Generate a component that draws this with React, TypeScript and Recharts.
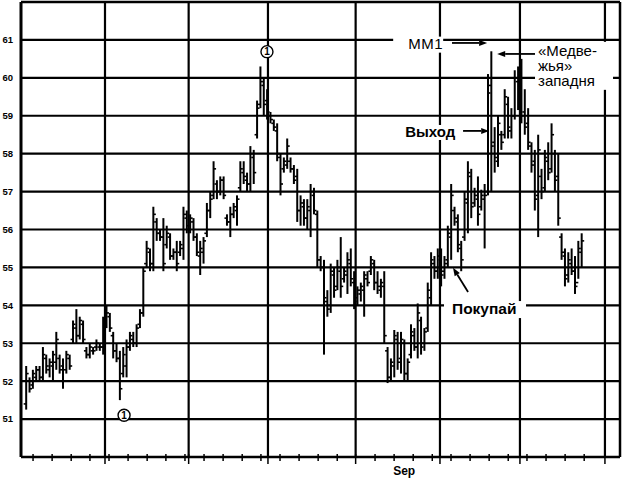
import React from "react";
import {
  Bar,
  CartesianGrid,
  ComposedChart,
  ReferenceDot,
  ReferenceLine,
  XAxis,
  YAxis,
} from "recharts";

// daily bars left to right
const HIGH = [
  52.4, 52.1, 52.3, 52.4, 52.4, 52.9, 52.7, 52.6, 52.8, 53.3, 52.7, 52.6, 52.8, 52.7, 53.6, 53.9, 53.7, 53.6, 52.9, 53.0,
  52.9, 53.1, 53.0, 53.7, 54.0, 53.8, 53.3, 53.0, 52.8, 52.9, 53.1, 53.3, 53.3, 53.5, 53.9, 55.0, 55.7, 55.5, 56.6, 56.3,
  56.0, 56.3, 56.1, 55.9, 55.5, 55.7, 55.7, 56.6, 56.5, 56.4, 56.3, 55.9, 55.7, 55.8, 56.7, 57.0, 57.8, 57.3, 57.4, 57.4,
  56.4, 56.6, 56.7, 56.9, 57.8, 57.8, 57.5, 58.2, 58.1, 59.4, 60.3, 60.0, 59.7, 59.1, 58.9, 58.8, 58.0, 57.9, 58.4, 57.9,
  57.7, 57.6, 56.9, 56.8, 56.8, 57.2, 57.1, 56.5, 55.3, 55.2, 54.4, 55.1, 55.0, 55.2, 55.8, 55.0, 55.4, 55.5, 54.9, 54.5,
  54.6, 54.9, 54.9, 55.3, 55.2, 54.9, 54.7, 54.9, 52.9, 52.6, 53.35, 53.3, 53.3, 53.1, 52.6, 53.5, 53.4, 54.05, 53.7, 53.4,
  54.6, 55.4, 55.3, 55.5, 55.5, 55.3, 56.1, 57.2, 56.6, 56.4, 55.7, 57.0, 57.8, 57.6, 57.1, 57.4, 57.05, 57.2, 60.1, 60.7,
  58.7, 59.0, 58.6, 59.7, 59.5, 59.2, 60.2, 60.3, 60.5, 59.7, 59.2, 58.3, 58.1, 58.5, 57.6, 58.1, 58.3, 58.8, 58.1, 58.0,
  55.9, 55.5, 55.4, 55.5, 55.3, 55.7, 55.9,
];
const LOW = [
  51.25, 51.7, 51.8, 52.0, 52.0, 52.0, 52.2, 52.1, 52.0, 52.3, 52.2, 51.8, 52.2, 52.3, 53.0, 53.0, 53.1, 53.0, 52.6, 52.6,
  52.7, 52.8, 52.8, 52.7, 53.4, 53.3, 52.6, 52.5, 51.5, 52.1, 52.1, 52.8, 52.9, 52.9, 53.4, 53.7, 55.0, 54.9, 54.9, 55.7,
  55.7, 54.9, 55.5, 55.2, 55.2, 54.9, 55.3, 55.2, 55.9, 55.9, 55.7, 55.3, 54.8, 55.1, 55.8, 56.3, 56.8, 56.8, 56.9, 56.8,
  56.1, 55.8, 56.3, 56.1, 57.0, 57.2, 57.0, 57.0, 57.2, 58.4, 59.2, 59.0, 58.9, 58.8, 58.6, 57.8, 56.9, 57.5, 57.6, 57.5,
  57.2, 56.2, 56.1, 56.1, 56.0, 55.8, 56.4, 55.0, 54.9, 52.7, 53.7, 53.8, 54.2, 54.4, 54.2, 54.6, 54.3, 54.5, 53.9, 54.0,
  54.1, 53.7, 54.5, 54.8, 54.4, 54.3, 54.2, 53.0, 51.95, 52.0, 52.1, 52.3, 52.2, 52.0, 52.0, 52.6, 52.8, 52.6, 52.7, 52.8,
  53.3, 54.0, 54.7, 54.7, 54.5, 54.7, 55.0, 55.2, 56.1, 55.4, 54.9, 55.7, 55.9, 56.3, 56.6, 56.1, 56.5, 55.5, 56.9, 57.0,
  57.5, 57.65, 58.1, 58.4, 58.4, 58.4, 58.9, 59.15, 58.8, 58.5, 58.1, 57.5, 56.5, 55.8, 56.8, 57.0, 57.3, 57.5, 57.0, 56.1,
  55.2, 54.5, 54.6, 54.8, 54.3, 54.7, 55.0,
];
const OPEN = [
  51.4, 52.0, 51.9, 52.1, 52.3, 52.1, 52.6, 52.3, 52.4, 52.5, 52.6, 52.4, 52.3, 52.6, 53.1, 53.4, 53.2, 53.5, 52.8, 52.7,
  52.8, 52.9, 52.9, 52.9, 53.6, 53.7, 53.2, 52.8, 52.6, 52.2, 52.4, 52.9, 53.1, 53.0, 53.5, 53.8, 55.1, 55.4, 55.1, 56.2,
  55.9, 55.8, 55.6, 55.8, 55.3, 55.4, 55.4, 55.5, 56.3, 56.0, 56.2, 55.8, 55.3, 55.4, 55.9, 56.5, 56.9, 57.2, 57.0, 57.3,
  56.3, 56.2, 56.4, 56.5, 57.1, 57.5, 57.3, 57.2, 57.9, 58.5, 59.3, 59.8, 59.4, 59.0, 58.8, 58.6, 57.9, 57.6, 57.7, 57.8,
  57.6, 57.4, 56.5, 56.6, 56.3, 56.5, 56.9, 56.4, 55.2, 55.0, 54.1, 54.0, 54.8, 54.5, 54.9, 54.7, 54.8, 55.1, 54.6, 54.2,
  54.3, 54.4, 54.7, 54.9, 55.1, 54.6, 54.4, 54.5, 52.8, 52.1, 52.4, 53.1, 52.6, 53.0, 52.2, 52.7, 53.2, 52.9, 53.6, 53.0,
  53.4, 54.2, 55.1, 54.9, 55.2, 54.9, 55.2, 55.8, 56.5, 56.2, 55.5, 55.8, 56.7, 57.4, 56.7, 56.8, 56.6, 56.8, 57.0, 59.8,
  58.3, 57.8, 58.5, 58.5, 59.3, 58.6, 59.0, 59.9, 59.5, 59.1, 58.8, 58.2, 57.8, 56.9, 57.4, 57.1, 57.8, 57.6, 58.0, 57.4,
  55.8, 55.3, 54.8, 55.1, 54.9, 54.6, 55.4,
];
const CLOSE = [
  52.2, 51.8, 52.2, 52.3, 52.1, 52.7, 52.4, 52.5, 52.7, 53.1, 52.3, 52.0, 52.7, 52.4, 53.5, 53.2, 53.6, 53.1, 52.7, 52.9,
  52.8, 53.0, 52.9, 53.5, 53.8, 53.4, 52.8, 52.6, 51.8, 52.7, 52.9, 53.2, 53.0, 53.4, 53.8, 54.9, 55.5, 55.1, 56.4, 55.9,
  55.8, 55.1, 55.9, 55.3, 55.4, 55.1, 55.6, 56.4, 56.1, 56.3, 55.8, 55.4, 55.5, 55.7, 56.5, 56.8, 57.6, 57.0, 57.3, 56.9,
  56.2, 56.4, 56.6, 56.8, 57.6, 57.4, 57.2, 58.0, 57.5, 59.2, 59.9, 59.3, 59.1, 58.9, 58.7, 58.0, 57.2, 57.8, 58.2, 57.6,
  57.3, 56.5, 56.7, 56.3, 56.6, 57.0, 56.5, 55.2, 55.0, 54.2, 53.9, 54.9, 54.4, 55.0, 54.5, 54.9, 55.2, 54.7, 54.1, 54.4,
  54.5, 54.8, 54.6, 55.2, 54.6, 54.5, 54.6, 53.2, 52.1, 52.5, 53.2, 52.5, 53.1, 52.2, 52.5, 53.3, 52.9, 53.8, 52.9, 53.3,
  54.4, 55.2, 54.9, 55.3, 54.8, 55.1, 55.9, 56.9, 56.3, 55.6, 55.2, 56.8, 57.5, 56.6, 56.9, 56.4, 56.9, 56.9, 59.6, 58.2,
  57.9, 58.8, 58.3, 59.5, 58.7, 59.0, 60.0, 59.4, 59.0, 58.7, 58.3, 57.7, 56.8, 58.1, 57.0, 57.9, 57.5, 58.5, 57.3, 56.3,
  55.4, 54.7, 55.2, 54.9, 54.5, 55.5, 55.7,
];

const PRICE_TICKS = [51, 52, 53, 54, 55, 56, 57, 58, 59, 60, 61];
const WEEK_TICKS = [
  2.1, 7.8, 13.5, 19.1, 24.8, 30.5, 36.2, 41.8, 47.5, 53.2, 58.9, 64.6, 70.2, 75.9, 81.6,
  87.3, 93.0, 104.3, 110.0, 115.7, 121.4, 127.0, 132.7, 138.4, 144.1, 149.7, 155.4, 161.1, 166.8,
];
const MONTH_LINES = [23.6, 48.6, 72.3, 98.5, 123.7, 147.6, 173.0];
const MONTH_LABELS = [{ at: 113, text: "Sep" }];

const X_DOMAIN: [number, number] = [-1.5, 177.5];
const FONT = "'Liberation Sans', Arial, sans-serif";

const data = HIGH.map((h, i) => ({
  i,
  high: h,
  low: LOW[i],
  open: OPEN[i],
  close: CLOSE[i],
}));

function OhlcBar(props: any) {
  const { x, y, width, height, payload } = props;
  const cx = x + width / 2;
  const top = Math.min(y, y + height);
  const h = Math.abs(height);
  const span = payload.high - payload.low || 1;
  const py = (v: number) => top + ((payload.high - v) / span) * h;
  return (
    <g>
      <line x1={cx} x2={cx} y1={top} y2={top + h} stroke="#000" strokeWidth={2} />
      <line x1={cx - 2.5} x2={cx} y1={py(payload.open)} y2={py(payload.open)} stroke="#000" strokeWidth={1.6} />
      <line x1={cx} x2={cx + 2.5} y1={py(payload.close)} y2={py(payload.close)} stroke="#000" strokeWidth={1.6} />
    </g>
  );
}

function AxisTick(props: any) {
  const { x, y, payload } = props;
  const v = payload.value;
  const label = MONTH_LABELS.find((m) => m.at === v);
  if (label) {
    return (
      <text x={x} y={y + 18} textAnchor="middle" fontFamily={FONT} fontWeight="bold" fontSize={12} fill="#000">
        {label.text}
      </text>
    );
  }
  const major = MONTH_LINES.includes(v);
  return <line x1={x} x2={x} y1={y - 3} y2={y + (major ? 7 : 4)} stroke="#000" strokeWidth={1.5} />;
}

function Arrow(props: any) {
  const { x1, y1, x2, y2 } = props;
  const a = Math.atan2(y2 - y1, x2 - x1);
  const L = 8;
  const W = 3;
  const bx = x2 - L * Math.cos(a);
  const by = y2 - L * Math.sin(a);
  const p1 = `${bx + W * Math.sin(a)},${by - W * Math.cos(a)}`;
  const p2 = `${bx - W * Math.sin(a)},${by + W * Math.cos(a)}`;
  return (
    <g>
      <line x1={x1} y1={y1} x2={bx} y2={by} stroke="#000" strokeWidth={1.8} />
      <polygon points={`${x2},${y2} ${p1} ${p2}`} fill="#000" />
    </g>
  );
}

function Circled(props: any) {
  const { cx, cy } = props;
  return (
    <g>
      <circle cx={cx} cy={cy} r={6} fill="#fff" stroke="#000" strokeWidth={1.4} />
      <text x={cx} y={cy + 3.5} textAnchor="middle" fontFamily={FONT} fontWeight="bold" fontSize={10} fill="#000">
        1
      </text>
    </g>
  );
}

function makeLabel(lines: string[], opts: { size: number; bold?: boolean; box: [number, number, number, number]; spacing?: number }) {
  return (props: any) => {
    const { cx, cy } = props;
    const [bx, by, bw, bh] = opts.box;
    return (
      <g>
        <rect x={cx + bx} y={cy + by} width={bw} height={bh} fill="#fff" />
        <text
          x={cx}
          y={cy}
          fontFamily={FONT}
          fontSize={opts.size}
          fontWeight={opts.bold ? "bold" : "normal"}
          letterSpacing={opts.spacing ?? 0}
          fill="#000"
        >
          {lines.map((l, k) => (
            <tspan key={k} x={cx} dy={k === 0 ? 0 : opts.size * 1.02}>
              {l}
            </tspan>
          ))}
        </text>
      </g>
    );
  };
}

const MM1Label = makeLabel(["MM1"], { size: 15, spacing: 0.6, box: [-15, -12, 50, 16] });
const TrapLabel = makeLabel(["«Медве-", "жья»", "западня"], { size: 15, box: [-3, -14, 78, 48] });
const ExitLabel = makeLabel(["Выход"], { size: 15, bold: true, box: [-2, -12, 58, 15] });
const BuyLabel = makeLabel(["Покупай"], { size: 15.5, bold: true, box: [-8, -13, 82, 17] });

export default function App() {
  return (
    <div style={{ position: "absolute", left: 0, top: 0, background: "#fff" }}>
      <ComposedChart width={623} height={479} data={data} margin={{ top: 2, right: 3, bottom: 0, left: 0 }}>
        <CartesianGrid vertical={false} stroke="#000" strokeWidth={2.2} />
        <XAxis
          dataKey="i"
          type="number"
          domain={X_DOMAIN}
          allowDataOverflow
          ticks={[...WEEK_TICKS, ...MONTH_LINES, ...MONTH_LABELS.map((m) => m.at)]}
          interval={0}
          tick={AxisTick}
          tickLine={false}
          tickSize={0}
          tickMargin={0}
          height={22}
          axisLine={{ stroke: "#000", strokeWidth: 2.5 }}
        />
        <YAxis
          type="number"
          domain={[50, 62]}
          allowDataOverflow
          ticks={PRICE_TICKS}
          width={21}
          tickLine={false}
          tickSize={0}
          tickMargin={8}
          axisLine={{ stroke: "#000", strokeWidth: 3 }}
          tick={{ fontFamily: FONT, fontWeight: "bold", fontSize: 9.5, fill: "#000" }}
        />
        {MONTH_LINES.map((m) => (
          <ReferenceLine key={m} x={m} stroke="#000" strokeWidth={2.2} />
        ))}
        <ReferenceLine y={62} stroke="#000" strokeWidth={2.5} />
        <ReferenceLine x={177.5} stroke="#000" strokeWidth={2.5} />
        <Bar
          dataKey={(d: any) => [d.low, d.high]}
          shape={OhlcBar}
          isAnimationActive={false}
        />
        <ReferenceDot x={29.3} y={51.1} r={6} shape={Circled} ifOverflow="visible" />
        <ReferenceDot x={72.0} y={60.69} r={6} shape={Circled} ifOverflow="visible" />
        <ReferenceDot x={114.2} y={60.77} r={1} shape={MM1Label} ifOverflow="visible" />
        <ReferenceDot x={153.0} y={60.58} r={1} shape={TrapLabel} ifOverflow="visible" />
        <ReferenceDot x={113.3} y={58.44} r={1} shape={ExitLabel} ifOverflow="visible" />
        <ReferenceDot x={127.3} y={53.77} r={1} shape={BuyLabel} ifOverflow="visible" />
        <ReferenceLine segment={[{ x: 127.3, y: 60.92 }, { x: 137.8, y: 60.92 }]} shape={Arrow} ifOverflow="visible" />
        <ReferenceLine segment={[{ x: 152.1, y: 60.63 }, { x: 140.8, y: 60.63 }]} shape={Arrow} ifOverflow="visible" />
        <ReferenceLine segment={[{ x: 130.6, y: 58.6 }, { x: 138.4, y: 58.6 }]} shape={Arrow} ifOverflow="visible" />
        <ReferenceLine segment={[{ x: 132.1, y: 54.35 }, { x: 127.6, y: 54.99 }]} shape={Arrow} ifOverflow="visible" />
      </ComposedChart>
    </div>
  );
}
